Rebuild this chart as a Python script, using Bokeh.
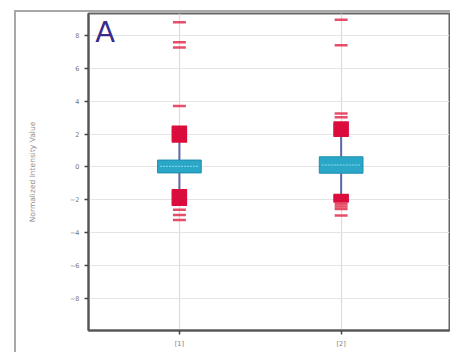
from bokeh.plotting import figure
from bokeh.models import Range1d, FixedTicker, Label, ColumnDataSource
from bokeh.embed import file_html
from bokeh.resources import INLINE

# ---- data ----
categories = ["[1]", "[2]"]
q1 = [-0.36, -0.38]
median = [0.04, 0.12]
q3 = [0.42, 0.62]
whisker_low = [-1.42, -1.70]
whisker_high = [1.55, 1.90]

# dense outlier clusters (drawn as stacked dashes)
dense_g1 = [1.55, 1.63, 1.71, 1.79, 1.87, 1.95, 2.03, 2.11, 2.19, 2.27, 2.35, 2.45,
            -1.42, -1.50, -1.58, -1.66, -1.74, -1.82, -1.90, -1.98, -2.06, -2.14, -2.22, -2.30]
dense_g2 = [1.90, 1.98, 2.06, 2.14, 2.22, 2.30, 2.38, 2.46, 2.54, 2.62, 2.70,
            -1.70, -1.78, -1.86, -1.94, -2.02, -2.10]
# isolated outliers
sparse_g1 = [8.80, 7.58, 7.27, 3.70, -2.60, -2.92, -3.22]
sparse_g2 = [8.95, 7.40, 3.25, 3.02, -2.25, -2.40, -2.55, -2.95]

y_ticks = [-8, -6, -4, -2, 0, 2, 4, 6, 8]

xs = [i + 1 for i in range(len(categories))]

p = figure(width=436, height=342, output_backend="svg", toolbar_location=None,
           x_range=Range1d(0.438, 2.67), y_range=Range1d(-9.94, 9.33),
           min_border_left=72, min_border_right=3, min_border_top=1, min_border_bottom=24)
p.margin = (10, 0, 0, 14)
p.styles = {"border-left": "2px solid #a8a8a8", "border-top": "2px solid #a8a8a8"}
p.background_fill_color = "white"
p.border_fill_color = "white"
p.outline_line_color = "#666666"
p.outline_line_width = 2

# grids
p.ygrid.grid_line_color = "#e4e4e4"
p.ygrid.grid_line_width = 1
p.xgrid.grid_line_color = "#e6d6e2"
p.xgrid.grid_line_width = 1.2

# axes
p.xaxis.ticker = FixedTicker(ticks=xs)
p.xaxis.major_label_overrides = {x: c for x, c in zip(xs, categories)}
p.yaxis.ticker = FixedTicker(ticks=y_ticks)
for ax in (p.xaxis[0], p.yaxis[0]):
    ax.axis_line_color = "#555555"
    ax.axis_line_width = 2
    ax.major_tick_line_color = "#444444"
    ax.major_tick_line_width = 1.5
    ax.major_tick_out = 4
    ax.major_tick_in = 0
    ax.minor_tick_line_color = None
    ax.major_label_text_font = "DejaVu Sans"
    ax.major_label_text_font_size = "6.5px"
    ax.major_label_text_color = "#777777"
p.yaxis.axis_label = "Normalized Intensity Value"
p.yaxis.axis_label_text_font = "DejaVu Sans"
p.yaxis.axis_label_text_font_size = "7.5px"
p.yaxis.axis_label_text_font_style = "normal"
p.yaxis.axis_label_text_color = "#909090"
p.yaxis.axis_label_standoff = 30

# whiskers
p.segment(x0=xs, x1=xs, y0=q3, y1=whisker_high, line_color="#5a6aa6", line_width=2)
p.segment(x0=xs, x1=xs, y0=q1, y1=whisker_low, line_color="#5a6aa6", line_width=2)

# boxes
p.vbar(x=xs, width=0.27, bottom=q1, top=q3, fill_color="#2aa7c7", line_color="#1f8db0", line_width=1)
p.segment(x0=[x - 0.12 for x in xs], x1=[x + 0.12 for x in xs], y0=median, y1=median,
          line_color="#8fdaee", line_width=1, line_dash="2 1")

# outliers
dense = ColumnDataSource(dict(x=[xs[0]] * len(dense_g1) + [xs[1]] * len(dense_g2),
                              y=dense_g1 + dense_g2))
p.rect(x="x", y="y", width=0.095, height=2.5, height_units="screen", source=dense,
       fill_color="#db0d3d", line_color=None)
sparse = ColumnDataSource(dict(x=[xs[0]] * len(sparse_g1) + [xs[1]] * len(sparse_g2),
                               y=sparse_g1 + sparse_g2))
p.rect(x="x", y="y", width=0.08, height=2.5, height_units="screen", source=sparse,
       fill_color="#e0304f", fill_alpha=0.85, line_color=None)

p.add_layout(Label(x=0.48, y=9.22, text="A", text_font="DejaVu Sans", text_font_size="29px",
                   text_color="#3a2b8c", text_baseline="top"))

open("out.html", "w").write(file_html(p, INLINE))
